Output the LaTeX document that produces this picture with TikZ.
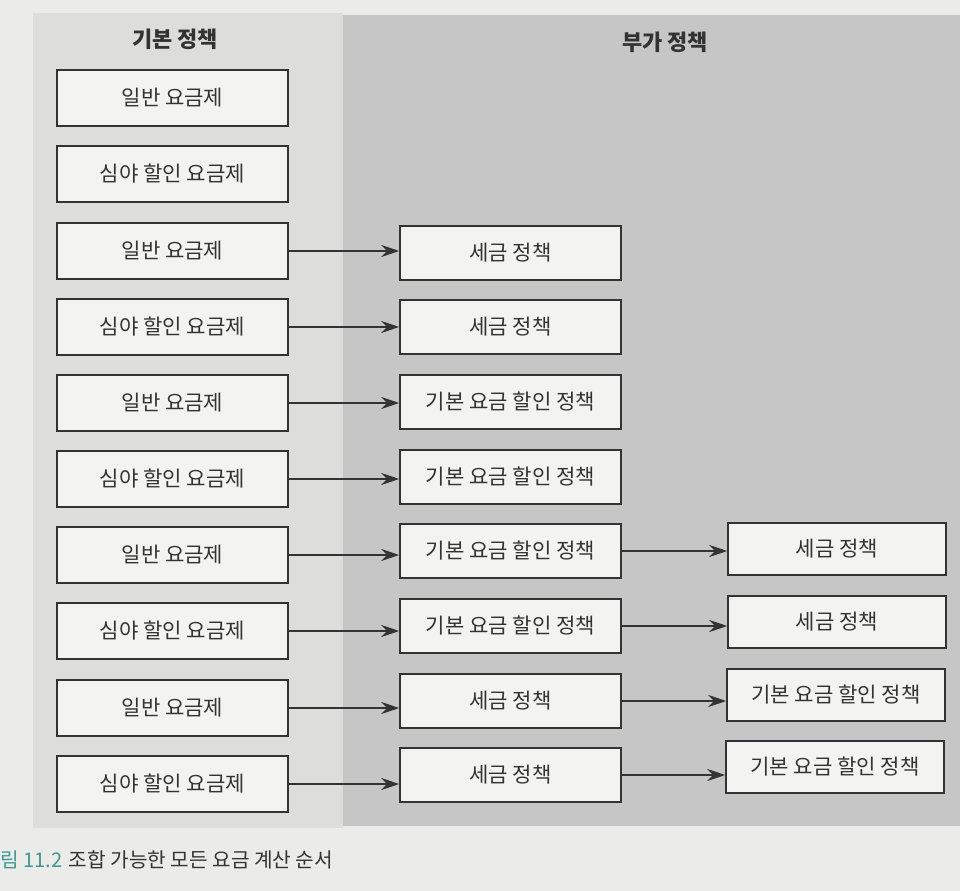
\documentclass[tikz,border=0pt]{standalone}
\usepackage{fontspec}
\setmainfont{Noto Sans CJK KR}
\usetikzlibrary{arrows.meta,shadows}
\definecolor{pagebg}{HTML}{EBEBE9}
\definecolor{leftbg}{HTML}{DDDDDC}
\definecolor{rightbg}{HTML}{C6C6C6}
\definecolor{boxfill}{HTML}{F3F3F2}
\definecolor{ink}{HTML}{333333}
\definecolor{capteal}{HTML}{3E9A8E}
\tikzset{
  pbox/.style={draw=ink, line width=0.9pt, fill=boxfill, inner sep=0pt,
    font=\fontsize{12}{14}\selectfont, text=ink,
    drop shadow={shadow xshift=0.6pt, shadow yshift=-0.6pt, opacity=0.35}},
  basebox/.style={pbox, minimum width=4.62cm, minimum height=1.12cm},
  midbox/.style={pbox, minimum width=4.42cm, minimum height=1.08cm},
  endbox/.style={pbox, minimum width=4.36cm, minimum height=1.04cm},
  hdr/.style={font=\fontsize{12.5}{14}\selectfont\bfseries, text=ink},
  flow/.style={draw=ink, line width=0.95pt, -{Stealth[length=0.36cm,width=0.24cm]}}
}
\begin{document}
\begin{tikzpicture}[x=0.02cm,y=-0.02cm]
\useasboundingbox (0,0) rectangle (960,891);
\fill[pagebg] (0,0) rectangle (960,891);
\fill[leftbg] (33,13) rectangle (343,828);
\fill[rightbg] (343,15) rectangle (960,826);
\node[hdr] (h1) at (175,39) {기본 정책};
\node[hdr] (h2) at (665,42) {부가 정책};
% base column
\node[basebox] (b1) at (172.5,98) {일반 요금제};
\node[basebox] (b2) at (172.5,174) {심야 할인 요금제};
\node[basebox] (b3) at (172.5,251) {일반 요금제};
\node[basebox] (b4) at (172.5,327) {심야 할인 요금제};
\node[basebox] (b5) at (172.5,403) {일반 요금제};
\node[basebox] (b6) at (172.5,479) {심야 할인 요금제};
\node[basebox] (b7) at (172.5,555) {일반 요금제};
\node[basebox] (b8) at (172.5,631) {심야 할인 요금제};
\node[basebox] (b9) at (172.5,708) {일반 요금제};
\node[basebox] (b10) at (172.5,784) {심야 할인 요금제};
% middle column
\node[midbox] (m3) at (510.5,253) {세금 정책};
\node[midbox] (m4) at (510.5,327) {세금 정책};
\node[midbox] (m5) at (510.5,402) {기본 요금 할인 정책};
\node[midbox] (m6) at (510.5,477) {기본 요금 할인 정책};
\node[midbox] (m7) at (510.5,551) {기본 요금 할인 정책};
\node[midbox] (m8) at (510.5,626) {기본 요금 할인 정책};
\node[midbox] (m9) at (510.5,701) {세금 정책};
\node[midbox] (m10) at (510.5,775) {세금 정책};
% right column
\node[endbox] (r7) at (837,549) {세금 정책};
\node[endbox] (r8) at (837,622) {세금 정책};
\node[endbox] (r9) at (836,695) {기본 요금 할인 정책};
\node[endbox] (r10) at (835,767) {기본 요금 할인 정책};
% connectors
\foreach \i in {3,...,10} {\draw[flow] (b\i.east) -- (m\i.west |- b\i.east);}
\foreach \i in {7,...,10} {\draw[flow] (m\i.east) -- (r\i.west |- m\i.east);}
% caption
\node[anchor=west, inner sep=0pt, font=\fontsize{11.5}{13}\selectfont] (cap) at (0,860)
  {\textcolor{capteal}{림 11.2}\hspace{0.3em}\textcolor{ink}{조합 가능한 모든 요금 계산 순서}};
\end{tikzpicture}
\end{document}
